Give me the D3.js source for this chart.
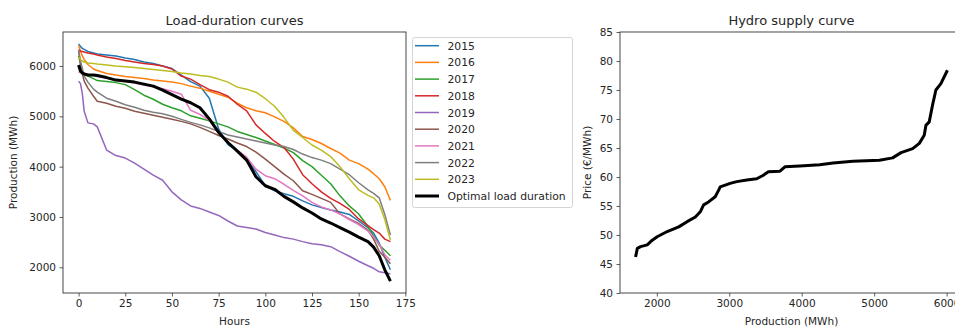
<!DOCTYPE html>
<html>
<head>
<meta charset="utf-8">
<script src="https://cdn.jsdelivr.net/npm/d3@7"></script>
<style>
  body { margin: 0; background: #fff; }
  text { font-family: "DejaVu Sans", sans-serif; fill: #262626; }
</style>
</head>
<body>
<svg id="chart" width="955" height="329"></svg>
<script>
// Hours of the week (sorted load-duration position)
const hours = [0,1,2,3,5,8,10,15,20,25,30,35,40,45,50,55,60,65,70,75,80,85,90,95,100,105,110,115,120,125,130,135,140,145,150,155,158,161,164,167];

const years = ["2015","2016","2017","2018","2019","2020","2021","2022","2023"];
const yearColors = ["#1f77b4","#ff7f0e","#2ca02c","#d62728","#9467bd","#8c564b","#e377c2","#7f7f7f","#bcbd22"];

// Weekly production sorted in descending order (MWh)
const prod2015 = [6440,6390,6350,6330,6290,6260,6240,6220,6200,6160,6130,6080,6050,6000,5950,5820,5690,5600,5360,4750,4440,4320,4150,3900,3620,3520,3460,3410,3320,3240,3190,3140,3100,3050,2920,2790,2680,2480,2200,1950];
const prod2016 = [6410,6300,6200,6130,6030,5940,5910,5850,5820,5790,5770,5750,5720,5700,5680,5650,5600,5560,5500,5440,5380,5260,5170,5110,5070,4990,4900,4770,4600,4540,4460,4360,4270,4130,4060,3950,3860,3760,3600,3330];
const prod2017 = [6200,6050,5900,5850,5800,5750,5710,5690,5670,5630,5530,5420,5340,5240,5170,5110,5010,4960,4910,4850,4790,4700,4640,4580,4510,4440,4370,4280,4120,4000,3830,3660,3420,3220,3060,2810,2620,2440,2340,2230];
const prod2018 = [6320,6300,6290,6280,6260,6240,6220,6180,6150,6110,6080,6050,6030,6000,5940,5800,5740,5630,5530,5480,5400,5240,5110,4830,4660,4500,4380,4150,3840,3660,3500,3370,3270,3150,2960,2830,2750,2680,2560,2510];
const prod2019 = [5700,5650,5450,5100,4870,4850,4790,4330,4220,4170,4070,3950,3830,3730,3500,3340,3220,3170,3100,3030,2920,2820,2790,2760,2690,2640,2590,2560,2510,2470,2450,2410,2310,2220,2120,2030,1980,1910,1890,1870];
const prod2020 = [6300,6050,5850,5700,5560,5400,5300,5260,5200,5160,5100,5060,5020,4980,4940,4900,4850,4780,4700,4620,4550,4470,4400,4290,4150,4000,3850,3720,3520,3450,3370,3290,3060,2960,2870,2740,2560,2320,2200,2070];
const prod2021 = [5880,5870,5860,5850,5830,5810,5790,5760,5720,5690,5660,5620,5590,5550,5500,5440,5120,5040,4920,4700,4480,4330,4190,3950,3820,3760,3650,3530,3420,3290,3200,3140,3060,2950,2850,2720,2600,2460,2250,2140];
const prod2022 = [6320,6100,5950,5800,5680,5540,5480,5360,5300,5230,5180,5120,5080,5050,5000,4940,4880,4830,4770,4700,4630,4590,4550,4510,4470,4430,4400,4340,4250,4180,4130,4060,3950,3840,3680,3540,3470,3380,3050,2640];
const prod2023 = [6180,6130,6100,6080,6060,6050,6040,6020,6000,5985,5970,5950,5930,5910,5890,5860,5840,5810,5790,5740,5680,5580,5540,5480,5350,5200,4980,4720,4580,4430,4330,4200,4000,3760,3540,3430,3380,3260,2950,2540];
const optimal  = [6020,5900,5860,5840,5820,5820,5810,5770,5720,5700,5680,5640,5600,5520,5430,5340,5270,5170,4950,4680,4480,4310,4130,3800,3620,3550,3410,3300,3180,3080,2960,2880,2790,2700,2600,2510,2400,2230,1950,1725];

// Hydro supply curve: production (MWh) against price (€/MWh)
const supplyProduction = [1707,1731,1776,1868,1937,2005,2143,2302,2418,2532,2600,2646,2714,2806,2852,2875,3012,3104,3242,3379,3470,3539,3700,3768,3974,4249,4432,4706,5073,5255,5371,5531,5623,5691,5714,5760,5806,5852,5921,6011];
const supplyPrice      = [46.2,47.7,48.0,48.3,49.1,49.7,50.6,51.4,52.3,53.1,54.0,55.2,55.7,56.6,57.7,58.3,58.9,59.2,59.5,59.7,60.3,60.9,61.0,61.75,61.9,62.1,62.4,62.7,62.9,63.3,64.2,64.9,65.8,67.2,68.9,69.5,72.4,75.0,76.1,78.4];

const hourTicks = [0,25,50,75,100,125,150,175];
const loadTicks = [2000,3000,4000,5000,6000];
const productionTicks = [2000,3000,4000,5000,6000];
const priceTicks = [40,45,50,55,60,65,70,75,80,85];

const yearSeries = [prod2015,prod2016,prod2017,prod2018,prod2019,prod2020,prod2021,prod2022,prod2023];

const svg = d3.select("#chart");
const spine = "#333";

// padded domain like an auto-scaled axis
function padded(ext) {
  const m = (ext[1] - ext[0]) * 0.05;
  return [ext[0] - m, ext[1] + m];
}

// ---------- Left panel: load-duration curves ----------
const L = { x: 63, y: 32, w: 343, h: 261 };
const allLoad = yearSeries.concat([optimal]).flat();
const xL = d3.scaleLinear().domain(padded(d3.extent(hours))).range([L.x, L.x + L.w]);
const yL = d3.scaleLinear().domain(padded(d3.extent(allLoad))).range([L.y + L.h, L.y]);

const gL = svg.append("g");
const lineL = d3.line().x((d, i) => xL(hours[i])).y(d => yL(d));

yearSeries.forEach((s, k) => {
  gL.append("path").datum(s).attr("d", lineL)
    .attr("fill", "none").attr("stroke", yearColors[k]).attr("stroke-width", 1.5)
    .attr("stroke-linejoin", "round");
});
gL.append("path").datum(optimal).attr("d", lineL)
  .attr("fill", "none").attr("stroke", "#000").attr("stroke-width", 3)
  .attr("stroke-linejoin", "round");

function styleAxis(g) {
  g.select(".domain").remove();
  g.selectAll(".tick line").attr("stroke", spine).attr("stroke-width", 0.8);
  g.selectAll(".tick text").style("font-family", "DejaVu Sans").style("font-size", "10.5px").attr("fill", "#262626");
}

gL.append("g").attr("transform", `translate(0,${L.y + L.h})`)
  .call(d3.axisBottom(xL).tickValues(hourTicks).tickSize(3.5).tickPadding(3.5).tickFormat(d3.format("d")))
  .call(styleAxis);
gL.append("g").attr("transform", `translate(${L.x},0)`)
  .call(d3.axisLeft(yL).tickValues(loadTicks).tickSize(3.5).tickPadding(3.5).tickFormat(d3.format("d")))
  .call(styleAxis);

gL.append("rect").attr("x", L.x).attr("y", L.y).attr("width", L.w).attr("height", L.h)
  .attr("fill", "none").attr("stroke", spine).attr("stroke-width", 0.9);

gL.append("text").attr("x", L.x + L.w / 2).attr("y", 24.5).attr("text-anchor", "middle")
  .style("font-size", "13px").text("Load-duration curves");
gL.append("text").attr("x", L.x + L.w / 2).attr("y", 324.5).attr("text-anchor", "middle")
  .style("font-size", "10.5px").text("Hours");
gL.append("text").attr("transform", `translate(17,${L.y + L.h / 2}) rotate(-90)`).attr("text-anchor", "middle")
  .style("font-size", "10.5px").text("Production (MWh)");

// legend
const legend = svg.append("g").attr("transform", "translate(412,37)");
legend.append("rect").attr("x", 0.5).attr("y", 0.5).attr("width", 160).attr("height", 170)
  .attr("rx", 2).attr("fill", "#fff").attr("stroke", "#d5d5d5").attr("stroke-width", 1);
const legendItems = years.map((y, k) => ({ label: y, color: yearColors[k], width: 1.5 }))
  .concat([{ label: "Optimal load duration", color: "#000", width: 3 }]);
legendItems.forEach((it, k) => {
  const cy = 8.7 + k * 16.7;
  legend.append("line").attr("x1", 3).attr("x2", 27).attr("y1", cy).attr("y2", cy)
    .attr("stroke", it.color).attr("stroke-width", it.width);
  legend.append("text").attr("x", 35.5).attr("y", cy + 4).style("font-size", "10.8px").text(it.label);
});

// ---------- Right panel: hydro supply curve ----------
const R = { x: 620, y: 32, w: 343, h: 261 };
const xR = d3.scaleLinear().domain(padded(d3.extent(supplyProduction))).range([R.x, R.x + R.w]);
const yR = d3.scaleLinear().domain([40, 85]).range([R.y + R.h, R.y]);
const gR = svg.append("g");

gR.append("path").datum(supplyPrice)
  .attr("d", d3.line().x((d, i) => xR(supplyProduction[i])).y(d => yR(d)))
  .attr("fill", "none").attr("stroke", "#000").attr("stroke-width", 3).attr("stroke-linejoin", "round");

gR.append("g").attr("transform", `translate(0,${R.y + R.h})`)
  .call(d3.axisBottom(xR).tickValues(productionTicks).tickSize(3.5).tickPadding(3.5).tickFormat(d3.format("d")))
  .call(styleAxis);
gR.append("g").attr("transform", `translate(${R.x},0)`)
  .call(d3.axisLeft(yR).tickValues(priceTicks).tickSize(3.5).tickPadding(3.5).tickFormat(d3.format("d")))
  .call(styleAxis);

gR.append("rect").attr("x", R.x).attr("y", R.y).attr("width", R.w).attr("height", R.h)
  .attr("fill", "none").attr("stroke", spine).attr("stroke-width", 0.9);

gR.append("text").attr("x", R.x + R.w / 2).attr("y", 24.5).attr("text-anchor", "middle")
  .style("font-size", "13px").text("Hydro supply curve");
gR.append("text").attr("x", R.x + R.w / 2).attr("y", 324.5).attr("text-anchor", "middle")
  .style("font-size", "10.5px").text("Production (MWh)");
gR.append("text").attr("transform", `translate(591,${R.y + R.h / 2}) rotate(-90)`).attr("text-anchor", "middle")
  .style("font-size", "10.5px").text("Price (€/MWh)");
</script>
</body>
</html>
